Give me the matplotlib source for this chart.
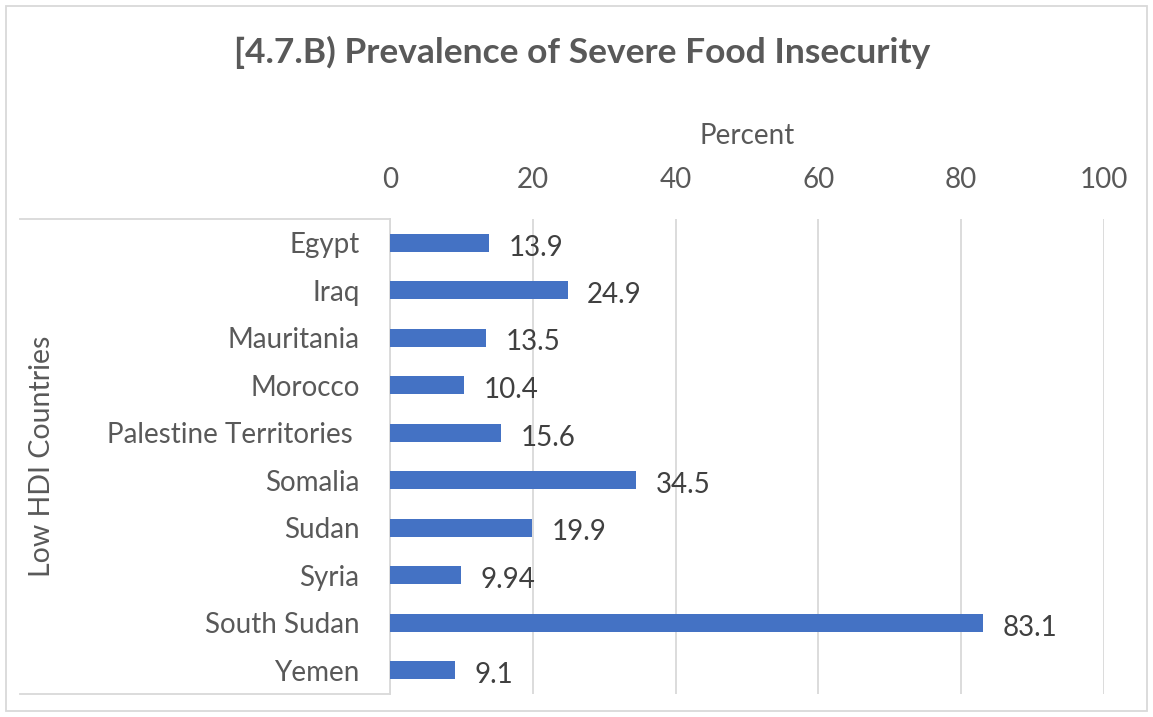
import matplotlib.pyplot as plt
from matplotlib.lines import Line2D
from matplotlib.patches import Rectangle

plt.rcParams['font.family'] = ['Lato', 'DejaVu Sans']

countries = ["Egypt", "Iraq", "Mauritania", "Morocco", "Palestine Territories ",
             "Somalia", "Sudan", "Syria", "South Sudan", "Yemen"]
values = [13.9, 24.9, 13.5, 10.4, 15.6, 34.5, 19.9, 9.94, 83.1, 9.1]
value_labels = ["13.9", "24.9", "13.5", "10.4", "15.6", "34.5", "19.9", "9.94", "83.1", "9.1"]
xticks = [0, 20, 40, 60, 80, 100]
group_label = "Low HDI Countries"
title = "[4.7.B) Prevalence of Severe Food Insecurity"

W, H = 1153, 717
fig = plt.figure(figsize=(W / 100, H / 100), dpi=100)
fig.patch.set_facecolor('white')

left, right, top, bottom = 390 / W, 1104 / W, 1 - 219 / H, 1 - 694 / H
ax = fig.add_axes([left, bottom, right - left, top - bottom])

ypos = list(range(len(countries)))
ax.barh(ypos, values, height=0.37, color='#4472C4', zorder=3)
ax.set_ylim(len(countries) - 0.5, -0.5)
ax.set_xlim(0, 100)

for y, v, lab in zip(ypos, values, value_labels):
    ax.text(v + 2.7, y + 0.1, lab, va='center', ha='left', fontsize=20, color='#404040')

ax.xaxis.tick_top()
ax.xaxis.set_label_position('top')
ax.set_xticks(xticks)
ax.set_xticklabels([str(t) for t in xticks], fontsize=20, color='#595959')
ax.set_xlabel("Percent", fontsize=20, color='#595959', labelpad=16)
ax.tick_params(axis='x', length=0, pad=19)
ax.grid(axis='x', color='#D9D9D9', linewidth=1.3, zorder=0)

ax.set_yticks(ypos)
ax.set_yticklabels(countries, fontsize=20, color='#595959')
ax.tick_params(axis='y', length=0, pad=22)

for s in ['top', 'right', 'bottom']:
    ax.spines[s].set_visible(False)
ax.spines['left'].set_color('#D9D9D9')
ax.spines['left'].set_linewidth(1.3)

# Category group bracket
x0 = 20 / W
fig.add_artist(Line2D([x0, left], [top, top], color='#D9D9D9', lw=1.3))
fig.add_artist(Line2D([x0, left], [bottom, bottom], color='#D9D9D9', lw=1.3))
fig.text(42 / W, (top + bottom) / 2, group_label, rotation=90, ha='center', va='center',
         fontsize=20.5, color='#595959')

fig.text(0.505, 1 - 52 / H, title, ha='center', va='center', fontsize=25.5,
         fontweight='bold', color='#595959')

# Chart border
fig.add_artist(Rectangle((6 / W, 6 / H), 1 - 12 / W, 1 - 12 / H, fill=False,
                         edgecolor='#D9D9D9', lw=1.3, transform=fig.transFigure))

fig.savefig('out.png', dpi=100)
